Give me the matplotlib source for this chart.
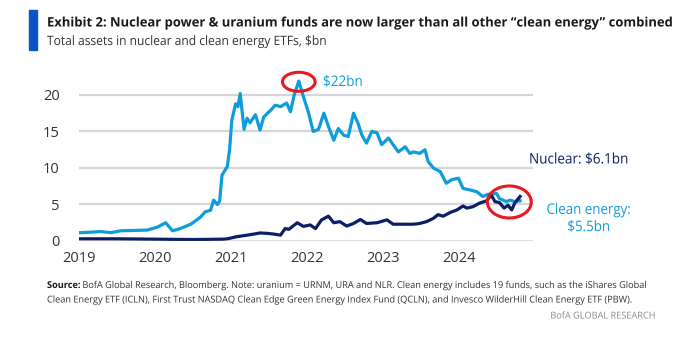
import matplotlib
matplotlib.use("Agg")
import matplotlib.pyplot as plt
from matplotlib.patches import Ellipse, Rectangle
from matplotlib.patheffects import AbstractPathEffect
from matplotlib.text import Text
from matplotlib.transforms import Affine2D, Bbox

# ---- data (decimal years, $bn) ----
clean_t = [2019.01, 2019.15, 2019.28, 2019.42, 2019.55, 2019.74, 2019.90, 2020.03,
           2020.14, 2020.23, 2020.33, 2020.47, 2020.55, 2020.60, 2020.66, 2020.73,
           2020.77, 2020.82, 2020.85, 2020.88, 2020.95, 2020.98, 2021.01, 2021.06,
           2021.09, 2021.12, 2021.17, 2021.21, 2021.25, 2021.32, 2021.38, 2021.43,
           2021.52, 2021.58, 2021.65, 2021.73, 2021.78, 2021.83, 2021.89, 2021.95,
           2022.02, 2022.08, 2022.15, 2022.22, 2022.28, 2022.35, 2022.41, 2022.48,
           2022.54, 2022.61, 2022.67, 2022.72, 2022.78, 2022.85, 2022.92, 2022.98,
           2023.07, 2023.13, 2023.20, 2023.29, 2023.35, 2023.40, 2023.48, 2023.55,
           2023.59, 2023.66, 2023.75, 2023.83, 2023.90, 2023.99, 2024.05, 2024.14,
           2024.23, 2024.31, 2024.38, 2024.49, 2024.53, 2024.62, 2024.67, 2024.73,
           2024.80]
clean_v = [1.14, 1.2, 1.3, 1.14, 1.4, 1.45, 1.5, 1.9,
           2.5, 1.4, 1.7, 2.3, 2.9, 3.3, 4.0, 4.2,
           5.6, 5.0, 5.5, 9.0, 10.2, 12.5, 16.6, 18.8,
           18.4, 20.2, 15.3, 16.8, 16.2, 17.3, 15.2, 17.0,
           17.9, 18.6, 18.4, 18.9, 17.7, 20.0, 21.9, 19.8,
           17.5, 15.0, 15.3, 17.5, 15.7, 13.8, 15.4, 14.5,
           14.3, 17.5, 16.1, 14.5, 13.4, 15.0, 14.8, 13.2,
           14.1, 13.2, 12.2, 12.9, 12.0, 12.2, 12.0, 12.5,
           10.9, 10.0, 9.5, 7.9, 8.4, 8.6, 7.2, 7.0,
           6.75, 6.1, 6.4, 6.5, 5.8, 5.4, 5.6, 5.4,
           5.5]

nuclear_t = [2019.01, 2019.5, 2020.0, 2020.5, 2020.9, 2020.95, 2021.08, 2021.21,
             2021.30, 2021.38, 2021.47, 2021.56, 2021.65, 2021.71, 2021.76, 2021.87,
             2021.95, 2022.04, 2022.11, 2022.19, 2022.28, 2022.35, 2022.43, 2022.52,
             2022.61, 2022.70, 2022.78, 2022.92, 2023.05, 2023.13, 2023.27, 2023.40,
             2023.48, 2023.57, 2023.66, 2023.72, 2023.79, 2023.88, 2023.97, 2024.05,
             2024.10, 2024.18, 2024.27, 2024.36, 2024.42, 2024.47, 2024.53, 2024.59,
             2024.64, 2024.69, 2024.73, 2024.80]
nuclear_v = [0.3, 0.3, 0.25, 0.2, 0.25, 0.3, 0.6, 0.8,
             0.95, 1.1, 1.05, 0.95, 0.8, 1.7, 1.6, 2.5,
             2.0, 2.2, 1.7, 2.9, 3.4, 2.5, 2.65, 2.05,
             2.4, 2.95, 2.4, 2.5, 2.9, 2.3, 2.3, 2.3,
             2.4, 2.65, 3.1, 3.6, 3.4, 3.9, 4.25, 4.8,
             4.5, 4.7, 5.2, 5.5, 6.3, 5.4, 5.25, 4.5,
             4.9, 4.25, 5.2, 6.1]

years = [2019, 2020, 2021, 2022, 2023, 2024]
y_ticks = [0, 5, 10, 15, 20]

peak_label = "$22bn"
nuclear_label = "Nuclear: $6.1bn"
clean_label = "Clean energy:\n$5.5bn"

CLEAN = "#0d9ddb"
NAVY = "#0b1f66"
RED = "#e8191f"
BLUE_BAR = "#0a52c7"
FAMILY = ["Open Sans", "DejaVu Sans"]

plt.rcParams["font.family"] = FAMILY

W, H = 683, 349
fig = plt.figure(figsize=(W / 100, H / 100), dpi=100)
renderer = fig.canvas.get_renderer()


def fx(px):
    return px / W


def fy(py):
    return 1 - py / H


class Squeeze(AbstractPathEffect):
    """Draw text glyphs narrower, keeping the text's anchor fixed."""

    def __init__(self, text):
        super().__init__()
        self.text = text

    def draw_path(self, renderer, gc, tpath, affine, rgbFace=None):
        x0 = self.text.anchor_x()
        sx = self.text.sx
        squeeze = Affine2D().translate(-x0, 0).scale(sx, 1).translate(x0, 0)
        renderer.draw_path(gc, tpath, affine + squeeze, rgbFace)


class NarrowText(Text):
    """Text drawn with a horizontal compression factor `sx`."""

    sx = 1.0

    def anchor_x(self):
        return self.get_transform().transform(self.get_position())[0]

    def full_extent(self, renderer=None):
        return Text.get_window_extent(self, renderer)

    def get_window_extent(self, renderer=None, dpi=None):
        bb = Text.get_window_extent(self, renderer, dpi)
        x0 = self.anchor_x()
        return Bbox([[x0 + (bb.x0 - x0) * self.sx, bb.y0],
                     [x0 + (bb.x1 - x0) * self.sx, bb.y1]])


def put(x, y, s, size, width=None, sx=None, weight="normal", **kw):
    """Place a text; narrow its glyphs so it spans `width` pixels (or by `sx`)."""
    t = NarrowText(fx(x), fy(y), s, fontsize=size, fontweight=weight, family=FAMILY,
                   transform=fig.transFigure, **kw)
    fig.add_artist(t)
    w = t.full_extent(renderer).width
    if sx is None:
        sx = min(1.0, width / w) if width else 1.0
    t.sx = sx
    t.set_path_effects([Squeeze(t)])
    return t, w * sx, sx


ax_left, ax_right, ax_top, ax_bot = 79, 533, 76.7, 241
ax = fig.add_axes([fx(ax_left), fy(ax_bot), fx(ax_right - ax_left), (ax_bot - ax_top) / H])
ax.set_xlim(2019.0, 2024.97)
ax.set_ylim(0, 22.5)

for v in y_ticks[1:]:
    ax.axhline(v, color="#d6d6d6", lw=1.6, zorder=1)
ax.axhline(0, color="#555555", lw=1.0, zorder=4)

ax.plot(clean_t, clean_v, color=CLEAN, lw=2.3, zorder=3, solid_joinstyle="round")
ax.plot(nuclear_t, nuclear_v, color=NAVY, lw=2.3, zorder=3, solid_joinstyle="round")

for s in ax.spines.values():
    s.set_visible(False)
ax.set_xticks(years)
ax.set_xticklabels([str(y) for y in years])
ax.set_yticks(y_ticks)
ax.tick_params(length=0, labelsize=10.5, colors="#333333")
ax.tick_params(axis="y", pad=14)
ax.tick_params(axis="x", pad=7)

# highlight the peak and the latest crossover
ax.add_patch(Ellipse((2021.89, 21.8), width=32.7 / 76.2, height=19 / 7.3,
                     fill=False, edgecolor=RED, lw=2.2, zorder=5, clip_on=False))
ax.add_patch(Ellipse(((509.5 - 78.3) / 76.2 + 2019, (241 - 202) / 7.3),
                     width=44 / 76.2, height=32 / 7.3,
                     fill=False, edgecolor=RED, lw=2.2, zorder=5, clip_on=False))

put(323, 82.5, peak_label, 10.5, width=40, color=CLEAN, va="center", ha="left")
put(529, 160, nuclear_label, 10.5, width=100, color=NAVY, va="center", ha="left")
put(589, 219, clean_label, 10.5, width=85, color=CLEAN, va="center", ha="center",
    linespacing=1.2)

# header
fig.patches.append(Rectangle((fx(29), fy(50)), fx(7.5), (50 - 10) / H,
                             transform=fig.transFigure, color=BLUE_BAR))
put(47, 23, "Exhibit 2: Nuclear power & uranium funds are now larger than all other \u201cclean energy\u201d combined",
    9.4, width=625, weight="bold", color="#1a1a1a", va="center", ha="left")
put(47, 41.5, "Total assets in nuclear and clean energy ETFs, $bn", 9.3, width=280,
    color="#333333", va="center", ha="left")

# footnote
line1_rest = ("BofA Global Research, Bloomberg. Note: uranium = URNM, URA and NLR. "
              "Clean energy includes 19 funds, such as the iShares Global")
line2 = ("Clean Energy ETF (ICLN), First Trust NASDAQ Clean Edge Green Energy Index Fund "
         "(QCLN), and Invesco WilderHill Clean Energy ETF (PBW).")
FS = 6.8
_, _, sx = put(47, 300, line2, FS, width=587, color="#333333", va="center", ha="left")
_, w_src, _ = put(47, 285.5, "Source:", FS, sx=sx, weight="bold", color="#1a1a1a",
                  va="center", ha="left")
put(47 + w_src + 2, 285.5, line1_rest, FS, sx=sx, color="#333333", va="center", ha="left")
put(656, 316, "BofA GLOBAL RESEARCH", FS, sx=sx, color="#8a8a8a", va="center", ha="right")

fig.savefig("out.png", dpi=100, facecolor="white")
